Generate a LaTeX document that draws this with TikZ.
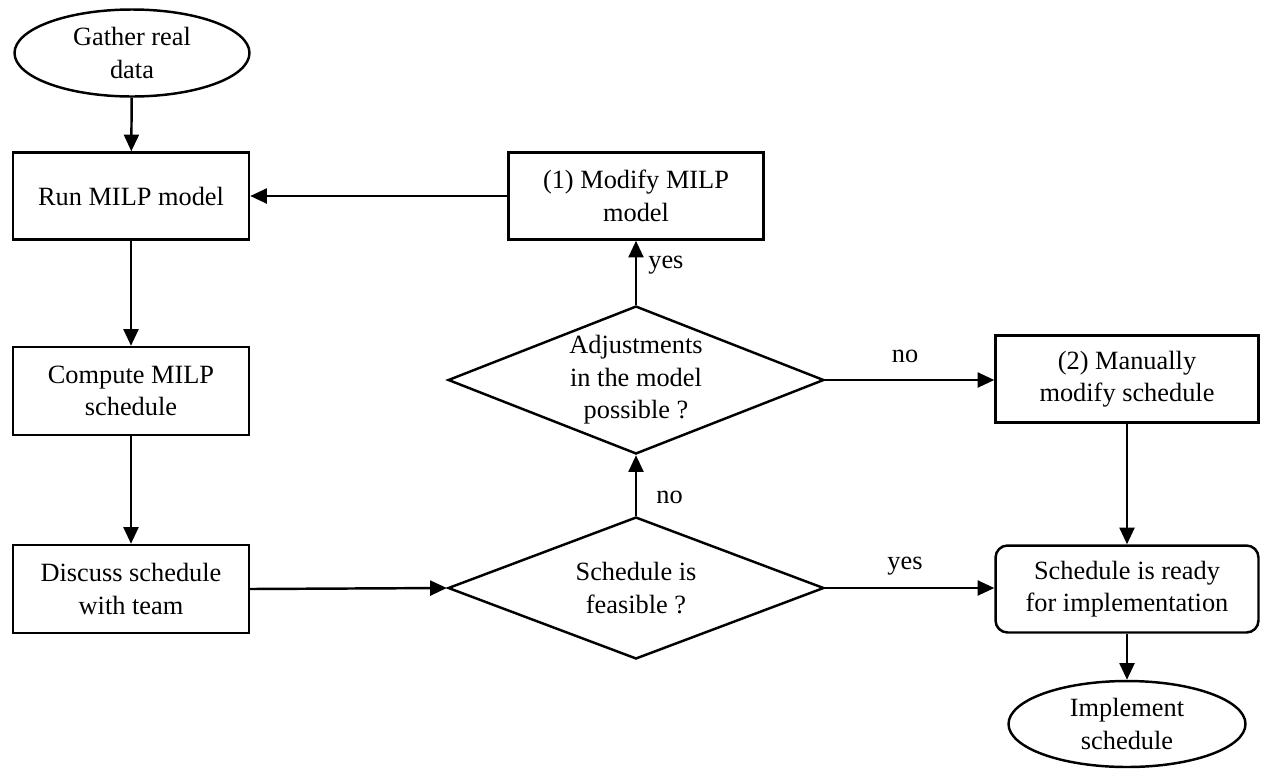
\documentclass[tikz,border=0pt]{standalone}
\usepackage{fontspec}
\setmainfont{Liberation Serif}
\usetikzlibrary{shapes.geometric,arrows.meta}
\begin{document}
\begin{tikzpicture}[x=0.02cm,y=-0.02cm,
  every node/.style={font=\fontsize{15}{18.5}\selectfont, align=center, inner sep=0pt},
  box/.style={draw, rectangle, line width=1.4pt},
  rbox/.style={draw, rectangle, rounded corners=0.24cm, line width=1.4pt},
  term/.style={draw, ellipse, line width=1.4pt},
  decision/.style={draw, diamond, aspect=2.54, line width=1.4pt},
  conn/.style={line width=1.4pt, -{Triangle[length=9.5pt,width=8.5pt]}},
  lbl/.style={font=\fontsize{15}{18.5}\selectfont}
]
\useasboundingbox (0,0) rectangle (1263,768);
\fill[white] (0,0) rectangle (1263,768);

\node[term, minimum width=4.70cm, minimum height=1.74cm] (gather) at (132,53) {Gather real\\data};
\node[box, minimum width=4.72cm, minimum height=1.74cm] (run) at (131,196) {Run MILP model};
\node[box, minimum width=4.72cm, minimum height=1.76cm] (compute) at (131,391) {Compute MILP\\schedule};
\node[box, minimum width=4.72cm, minimum height=1.76cm] (discuss) at (131,589) {Discuss schedule\\with team};
\node[box, minimum width=5.10cm, minimum height=1.74cm] (modify) at (636,196) {(1) Modify MILP\\model};
\node[decision, minimum width=7.52cm, minimum height=2.96cm] (adj) at (636,380) {Adjustments\\in the model\\possible ?};
\node[decision, minimum width=7.52cm, minimum height=2.84cm] (feas) at (636,588) {Schedule is\\feasible ?};
\node[box, minimum width=5.26cm, minimum height=1.74cm] (manual) at (1127,379) {(2) Manually\\modify schedule};
\node[rbox, minimum width=5.26cm, minimum height=1.74cm] (ready) at (1127,589) {Schedule is ready\\for implementation};
\node[term, minimum width=4.74cm, minimum height=1.72cm] (impl) at (1127,724) {Implement\\schedule};

\draw[conn] (gather) -- (run);
\draw[conn] (run) -- (compute);
\draw[conn] (compute) -- (discuss);
\draw[conn] (discuss.east) -- (feas.west);
\draw[conn] (feas.north) -- (adj.south);
\draw[conn] (adj.north) -- (modify.south);
\draw[conn] (modify.west) -- (run.east);
\draw[conn] (adj.east) -- (manual.west |- adj.east);
\draw[conn] (feas.east) -- (ready.west |- feas.east);
\draw[conn] (manual) -- (ready);
\draw[conn] (ready) -- (impl);

\node[lbl, anchor=west] (yes1) at (648,265) {yes};
\node[lbl, anchor=west] (no1) at (656,497) {no};
\node[lbl] (no2) at (905,356) {no};
\node[lbl] (yes2) at (905,566) {yes};
\end{tikzpicture}
\end{document}
